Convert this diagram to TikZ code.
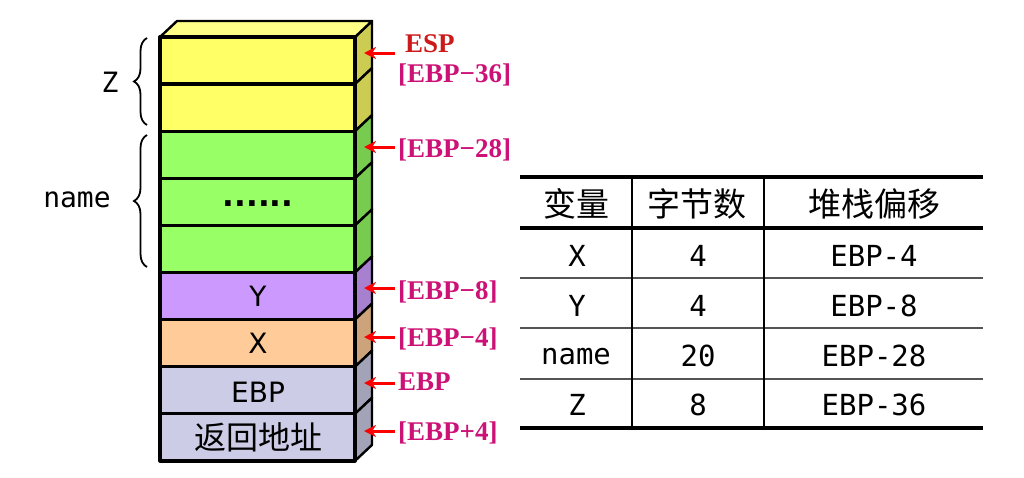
\documentclass[tikz,border=0pt]{standalone}
\usepackage{fontspec}
\setmainfont{Liberation Serif}
\newfontfamily\sansf{DejaVu Sans}
\newfontfamily\monof{DejaVu Sans Mono}
\newfontfamily\cjk{Noto Sans CJK SC}
\usetikzlibrary{arrows.meta,decorations.pathreplacing}
\definecolor{yel}{HTML}{FFFF66}
\definecolor{yelS}{HTML}{CCCC52}
\definecolor{yelT}{HTML}{FFFF88}
\definecolor{grn}{HTML}{99FF66}
\definecolor{grnS}{HTML}{77CC50}
\definecolor{pur}{HTML}{CC99FF}
\definecolor{purS}{HTML}{A880D0}
\definecolor{org}{HTML}{FFCC99}
\definecolor{orgS}{HTML}{CCA37A}
\definecolor{lav}{HTML}{CCCCE6}
\definecolor{lavS}{HTML}{A3A3B8}
\definecolor{espc}{HTML}{CC1A1A}
\definecolor{lblc}{HTML}{CC1177}
\definecolor{rulec}{HTML}{555555}
\begin{document}
\begin{tikzpicture}[x=1pt,y=-1pt,
  front/.style={draw=black,line width=3.3pt,line join=round},
  side/.style={draw=black,line width=2.4pt,line join=round},
  stxt/.style={font=\sansf\fontsize{28}{28}\selectfont,inner sep=0pt,anchor=center},
  cjktxt/.style={font=\cjk\fontsize{32}{32}\selectfont,inner sep=0pt,anchor=center},
  hdr/.style={font=\cjk\fontsize{33}{33}\selectfont,inner sep=0pt,anchor=center},
  lbl/.style={font=\bfseries\fontsize{27}{27}\selectfont,text=lblc,anchor=base west,inner sep=0pt},
  ptr/.style={red,line width=3pt,-{Stealth[length=12pt,width=12pt]}},
  brc/.style={decorate,decoration={brace,amplitude=13pt},line width=1.8pt},
  mono/.style={font=\monof\fontsize{28}{28}\selectfont,inner sep=0pt,anchor=center},
  tmono/.style={font=\monof\fontsize{29}{29}\selectfont,inner sep=0pt,anchor=center},
  thick rule/.style={line width=3.5pt},
  thin rule/.style={line width=1.8pt,draw=rulec},
  vrule/.style={line width=2.4pt}]
\useasboundingbox (0,0) rectangle (1024,477);

% ---------- stack: side faces ----------
\def\dx{17}\def\dy{16}
\foreach \t/\b/\c in {37/84.1/yelS,84.1/131.2/yelS,131.2/178.3/grnS,178.3/225.4/grnS,225.4/272.5/grnS,272.5/319.6/purS,319.6/366.7/orgS,366.7/413.8/lavS,413.8/460.9/lavS}{
  \filldraw[side,fill=\c] (355,\t) -- (355+\dx,\t-\dy) -- (355+\dx,\b-\dy) -- (355,\b) -- cycle;
}
% top face
\filldraw[side,fill=yelT] (160,37) -- (160+\dx,37-\dy) -- (355+\dx,37-\dy) -- (355,37) -- cycle;
% front faces
\foreach \t/\b/\c in {37/84.1/yel,84.1/131.2/yel,131.2/178.3/grn,178.3/225.4/grn,225.4/272.5/grn,272.5/319.6/pur,319.6/366.7/org,366.7/413.8/lav,413.8/460.9/lav}{
  \filldraw[front,fill=\c] (160,\t) rectangle (355,\b);
}

% stack texts
\node[font=\sansf\bfseries\fontsize{31}{31}\selectfont,anchor=base,inner sep=0pt] (dots) at (258,206) {......};
\node[stxt] (cy) at (258,296) {Y};
\node[stxt] (cx) at (258,343.5) {X};
\node[stxt] (cebp) at (258,392) {EBP};
\node[cjktxt] (cret) at (258,437.5) {返回地址};

% braces and their labels
\coordinate (zb) at (147,125);
\coordinate (zt) at (147,38);
\coordinate (nb) at (147,267);
\coordinate (nt) at (147,135);
\draw[brc] (zb) -- (zt);
\draw[brc] (nb) -- (nt);
\node[mono] (lz) at (110,82) {Z};
\node[mono] (lname) at (77,200) {name};

% pointer labels
\node[lbl,text=espc] (lesp) at (405,52) {ESP};
\node[lbl] (l36) at (398,82) {[EBP−36]};
\node[lbl] (l28) at (398,157) {[EBP−28]};
\node[lbl] (l8) at (398,299) {[EBP−8]};
\node[lbl] (l4) at (398,346) {[EBP−4]};
\node[lbl] (lebp) at (398,390) {EBP};
\node[lbl] (lp4) at (398,440) {[EBP+4]};

% arrows
\foreach \n/\y in {a1/53,a2/147,a3/288,a4/337,a5/383,a6/431}{
  \coordinate (\n s) at (395,\y);
  \coordinate (\n e) at (364,\y);
  \draw[ptr] (\n s) -- (\n e);
}

% ---------- table ----------
\draw[thick rule] (520,177) -- (983,177);
\draw[thick rule] (520,228) -- (983,228);
\draw[thin rule] (520,278) -- (983,278);
\draw[thin rule] (520,328) -- (983,328);
\draw[thin rule] (520,379) -- (983,379);
\draw[thick rule] (520,428) -- (983,428);
\draw[vrule] (632,177) -- (632,428);
\draw[vrule] (764,177) -- (764,428);

\node[hdr] (h1) at (576,204) {变量};
\node[hdr] (h2) at (697,204) {字节数};
\node[hdr] (h3) at (874,204) {堆栈偏移};

\node[tmono] (r1a) at (577,256) {X};
\node[tmono] (r1b) at (698,256) {4};
\node[tmono] (r1c) at (874,256) {EBP-4};
\node[tmono] (r2a) at (577,306) {Y};
\node[tmono] (r2b) at (698,306) {4};
\node[tmono] (r2c) at (874,306) {EBP-8};
\node[tmono] (r3a) at (576,357) {name};
\node[tmono] (r3b) at (698,356) {20};
\node[tmono] (r3c) at (874,356) {EBP-28};
\node[tmono] (r4a) at (577,405) {Z};
\node[tmono] (r4b) at (698,405) {8};
\node[tmono] (r4c) at (874,405) {EBP-36};
\end{tikzpicture}
\end{document}
